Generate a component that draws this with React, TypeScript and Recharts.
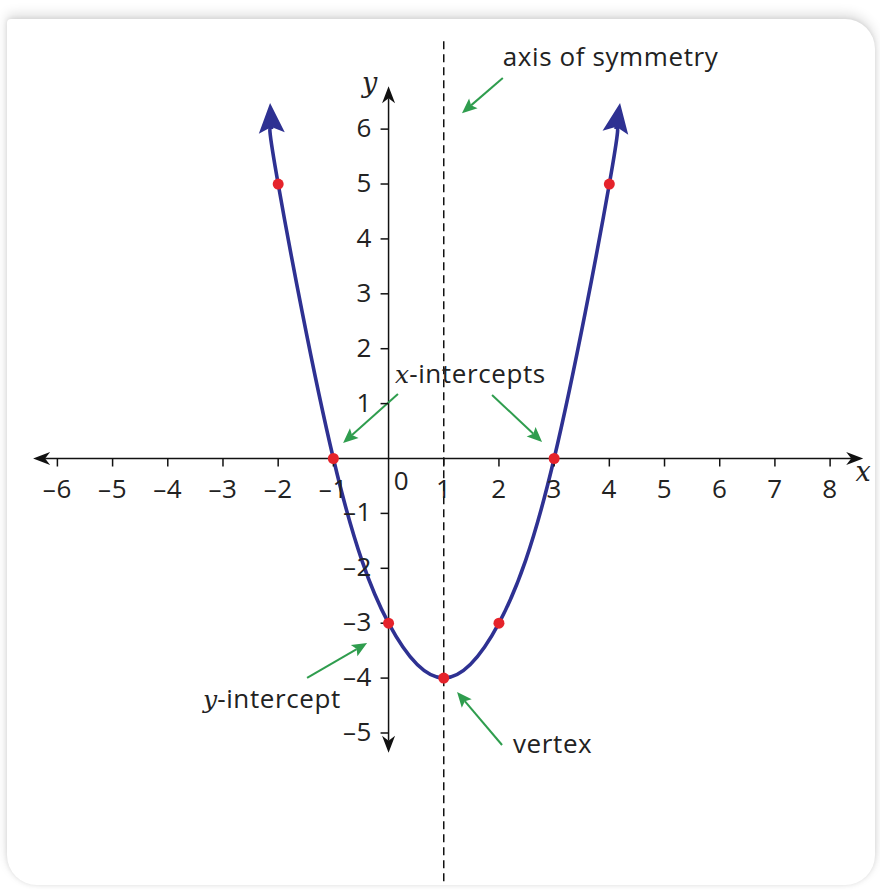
import React from 'react';
import {
  ComposedChart,
  Line,
  Scatter,
  XAxis,
  YAxis,
  ReferenceLine,
  ReferenceDot,
} from 'recharts';

// f(x) = x² − 2x − 3 : the marked points
const pointX = [-2, -1, 0, 1, 2, 3, 4];
const pointY = [5, 0, -3, -4, -3, 0, 5];

// the drawn curve, running out to where the arrowheads start
const curveX = [-2.12, -2, -1, 0, 1, 2, 3, 4, 4.12];
const curveY = [6.0, 5, 0, -3, -4, -3, 0, 5, 6.0];

// arrowhead tips at both ends of the curve
const curveTips = [
  { from: [-2.12, 6.0], to: [-2.147, 6.475] },
  { from: [4.12, 6.0], to: [4.194, 6.475] },
];

// axes
const xTicks = [-6, -5, -4, -3, -2, -1, 0, 1, 2, 3, 4, 5, 6, 7, 8];
const yTicks = [-5, -4, -3, -2, -1, 1, 2, 3, 4, 5, 6];
const xDomain = [-7.04, 8.904];
const yDomain = [-7.86, 8.352];
const xAxisEnds = [-6.44, 8.6];
const yAxisEnds = [-5.36, 6.78];

// axis of symmetry
const symmetryX = 1;
const symmetryEnds = [-7.7, 7.62];

// callout texts and their pointers
const notes = [
  { x: 2.07, y: 7.15, math: '', text: 'axis of symmetry' },
  { x: 0.118, y: 1.375, math: 'x', text: '-intercepts' },
  { x: -3.36, y: -4.545, math: 'y', text: '-intercept' },
  { x: 2.255, y: -5.36, math: '', text: 'vertex' },
];
const pointers = [
  { from: [2.07, 6.93], to: [1.33, 6.29] },
  { from: [0.17, 1.175], to: [-0.824, 0.282] },
  { from: [1.875, 1.157], to: [2.781, 0.3] },
  { from: [-1.476, -3.998], to: [-0.389, -3.361] },
  { from: [2.056, -5.219], to: [1.241, -4.253] },
];

const curveData = curveX.map((x, i) => ({ x, y: curveY[i] }));
const pointData = pointX.map((x, i) => ({ x, y: pointY[i] }));

const W = 880;
const H = 890;
const FONT = '"Open Sans", "Noto Sans", sans-serif';
const MATH = '"DejaVu Serif", "Liberation Serif", serif';
const INK = '#222222';
const AXIS = '#111111';
const BLUE = '#2e3192';
const RED = '#e5232b';
const GREEN = '#2f9d4e';

const fmt = (n: number) => (n < 0 ? '\u2013' + Math.abs(n) : String(n));

// arrowhead polygon with a notched back; returns the notch point too
function head(tx: number, ty: number, fx: number, fy: number, len: number, hw: number, notch: number) {
  const dx = tx - fx;
  const dy = ty - fy;
  const d = Math.hypot(dx, dy) || 1;
  const ux = dx / d;
  const uy = dy / d;
  const nx = -uy;
  const ny = ux;
  const bx = tx - ux * len;
  const by = ty - uy * len;
  const cx = tx - ux * (len - notch);
  const cy = ty - uy * (len - notch);
  const pts = [
    [tx, ty],
    [bx + nx * hw, by + ny * hw],
    [cx, cy],
    [bx - nx * hw, by - ny * hw],
  ]
    .map((p) => p.join(','))
    .join(' ');
  return { pts, cx, cy };
}

const arrowShape =
  (color: string, width: number, len: number, hw: number, notch: number, both: boolean) =>
  (p: any) => {
    const x1 = Number(p.x1);
    const y1 = Number(p.y1);
    const x2 = Number(p.x2);
    const y2 = Number(p.y2);
    const end = head(x2, y2, x1, y1, len, hw, notch);
    const start = both ? head(x1, y1, x2, y2, len, hw, notch) : null;
    return (
      <g>
        <line
          x1={start ? start.cx : x1}
          y1={start ? start.cy : y1}
          x2={end.cx}
          y2={end.cy}
          stroke={color}
          strokeWidth={width}
        />
        <polygon points={end.pts} fill={color} />
        {start && <polygon points={start.pts} fill={color} />}
      </g>
    );
  };

const axisArrow = arrowShape(AXIS, 1.5, 17, 6.5, 5, true);
const greenArrow = arrowShape(GREEN, 2, 15, 6.5, 3, false);
const curveArrow = arrowShape(BLUE, 3.6, 30, 13, 6, false);

const labelStyle = { fontFamily: FONT, fontSize: 26, fill: INK, letterSpacing: 0.6 } as const;

const xTickShape = (t: number) => (p: any) => {
  const cx = Number(p.cx);
  const cy = Number(p.cy);
  if (t === 0) {
    return (
      <text x={cx + 13} y={cy + 31.5} textAnchor="middle" style={labelStyle}>
        0
      </text>
    );
  }
  return (
    <g>
      <line x1={cx} y1={cy} x2={cx} y2={cy + 8} stroke={AXIS} strokeWidth={1.5} />
      <text x={cx} y={cy + 39.5} textAnchor="middle" style={labelStyle}>
        {fmt(t)}
      </text>
    </g>
  );
};

const yTickShape = (t: number) => (p: any) => {
  const cx = Number(p.cx);
  const cy = Number(p.cy);
  return (
    <g>
      <line x1={cx - 8} y1={cy} x2={cx} y2={cy} stroke={AXIS} strokeWidth={1.5} />
      <text x={cx - 16.5} y={cy + 8} textAnchor="end" style={labelStyle}>
        {fmt(t)}
      </text>
    </g>
  );
};

const noteShape = (math: string, text: string) => (p: any) => (
  <text x={Number(p.cx)} y={Number(p.cy)} style={labelStyle}>
    {math && (
      <tspan style={{ fontFamily: MATH, fontStyle: 'italic', fontSize: 25, letterSpacing: 0 }}>{math}</tspan>
    )}
    <tspan>{text}</tspan>
  </text>
);

const axisNameShape = (name: string, dx: number, dy: number) => (p: any) => (
  <text
    x={Number(p.cx) + dx}
    y={Number(p.cy) + dy}
    textAnchor="middle"
    style={{ fontFamily: MATH, fontStyle: 'italic', fontSize: 27, fill: INK }}
  >
    {name}
  </text>
);

const dotShape = (p: any) => <circle cx={p.cx} cy={p.cy} r={5.5} fill={RED} />;

export default function App() {
  return (
    <div style={{ position: 'absolute', left: 0, top: 0, width: W, height: H, background: '#ffffff', overflow: 'hidden' }}>
      <div
        style={{
          position: 'absolute',
          left: 7,
          top: 19,
          width: 868,
          height: 866,
          background: '#ffffff',
          borderRadius: '4px 30px 30px 30px',
          boxShadow: '0 -5px 12px rgba(0,0,0,0.13), 0 0 5px rgba(0,0,0,0.10)',
        }}
      />
      <div style={{ position: 'absolute', left: 0, top: 0 }}>
        <ComposedChart width={W} height={H} margin={{ top: 0, right: 0, bottom: 0, left: 0 }}>
          <XAxis type="number" dataKey="x" domain={xDomain} hide allowDataOverflow />
          <YAxis type="number" dataKey="y" domain={yDomain} hide allowDataOverflow />

          <ReferenceLine
            segment={[
              { x: symmetryX, y: symmetryEnds[0] },
              { x: symmetryX, y: symmetryEnds[1] },
            ]}
            stroke={AXIS}
            strokeWidth={1.5}
            strokeDasharray="8 5"
            ifOverflow="visible"
          />
          <ReferenceLine
            segment={[
              { x: xAxisEnds[0], y: 0 },
              { x: xAxisEnds[1], y: 0 },
            ]}
            shape={axisArrow}
            ifOverflow="visible"
          />
          <ReferenceLine
            segment={[
              { x: 0, y: yAxisEnds[0] },
              { x: 0, y: yAxisEnds[1] },
            ]}
            shape={axisArrow}
            ifOverflow="visible"
          />

          {xTicks.map((t) => (
            <ReferenceDot key={'x' + t} x={t} y={0} shape={xTickShape(t)} ifOverflow="visible" />
          ))}
          {yTicks.map((t) => (
            <ReferenceDot key={'y' + t} x={0} y={t} shape={yTickShape(t)} ifOverflow="visible" />
          ))}
          <ReferenceDot x={xAxisEnds[1]} y={0} shape={axisNameShape('x', 0, 22)} ifOverflow="visible" />
          <ReferenceDot x={0} y={yAxisEnds[1]} shape={axisNameShape('y', -19, 6)} ifOverflow="visible" />

          <Line
            data={curveData}
            dataKey="y"
            type="natural"
            stroke={BLUE}
            strokeWidth={3.6}
            dot={false}
            activeDot={false}
            isAnimationActive={false}
          />
          {curveTips.map((a, i) => (
            <ReferenceLine
              key={'c' + i}
              segment={[
                { x: a.from[0], y: a.from[1] },
                { x: a.to[0], y: a.to[1] },
              ]}
              shape={curveArrow}
              ifOverflow="visible"
            />
          ))}
          <Scatter data={pointData} dataKey="y" shape={dotShape} isAnimationActive={false} />

          {pointers.map((a, i) => (
            <ReferenceLine
              key={'p' + i}
              segment={[
                { x: a.from[0], y: a.from[1] },
                { x: a.to[0], y: a.to[1] },
              ]}
              shape={greenArrow}
              ifOverflow="visible"
            />
          ))}
          {notes.map((n, i) => (
            <ReferenceDot key={'n' + i} x={n.x} y={n.y} shape={noteShape(n.math, n.text)} ifOverflow="visible" />
          ))}
        </ComposedChart>
      </div>
    </div>
  );
}
